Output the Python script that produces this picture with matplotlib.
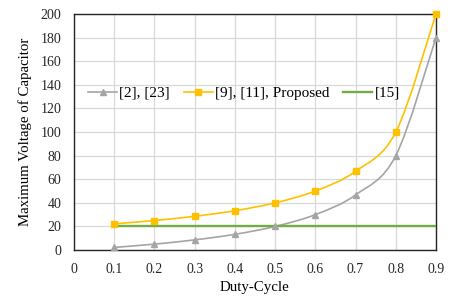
import matplotlib
matplotlib.use("Agg")
import matplotlib.pyplot as plt
from matplotlib.path import Path
from matplotlib.patches import PathPatch
from matplotlib.lines import Line2D
import numpy as np

plt.rcParams['font.family'] = ['Liberation Serif', 'DejaVu Serif']

duty = [0.1, 0.2, 0.3, 0.4, 0.5, 0.6, 0.7, 0.8, 0.9]
ref_2_23 = [2.2, 5.0, 8.6, 13.3, 20.0, 30.0, 46.7, 80.0, 180.0]
ref_9_11_prop = [22.2, 25.0, 28.6, 33.3, 40.0, 50.0, 66.7, 100.0, 200.0]
ref_15 = [20, 20, 20, 20, 20, 20, 20, 20, 20]
labels = ["[2], [23]", "[9], [11], Proposed", "[15]"]

GRAY = "#A5A5A5"
YEL = "#FFC000"
GRN = "#70AD47"

fig = plt.figure(figsize=(4.5, 2.98), dpi=100)
ax = fig.add_axes([0.1644, 0.161, 0.8045, 0.792])


def smooth_path(x, y):
    x = np.asarray(x, float)
    y = np.asarray(y, float)
    verts = [(x[0], y[0])]
    codes = [Path.MOVETO]
    n = len(x)
    for i in range(n - 1):
        p0 = np.array([x[max(i - 1, 0)], y[max(i - 1, 0)]])
        p1 = np.array([x[i], y[i]])
        p2 = np.array([x[i + 1], y[i + 1]])
        p3 = np.array([x[min(i + 2, n - 1)], y[min(i + 2, n - 1)]])
        c1 = p1 + (p2 - p0) / 6.0
        c2 = p2 - (p3 - p1) / 6.0
        verts += [tuple(c1), tuple(c2), tuple(p2)]
        codes += [Path.CURVE4] * 3
    return Path(verts, codes)


for ys, col, mk, ms in [(ref_2_23, GRAY, '^', 4.5), (ref_9_11_prop, YEL, 's', 4.5)]:
    ax.add_patch(PathPatch(smooth_path(duty, ys), facecolor='none', edgecolor=col,
                           lw=1.2, zorder=3, clip_on=False))
    ax.plot(duty, ys, linestyle='none', marker=mk, color=col, ms=ms, zorder=4, clip_on=False)
ax.plot(duty, ref_15, color=GRN, lw=1.7, zorder=3)

ax.set_xlim(0, 0.9)
ax.set_ylim(0, 200)
ax.set_xticks(np.arange(0, 0.91, 0.1))
ax.set_xticklabels(["0", "0.1", "0.2", "0.3", "0.4", "0.5", "0.6", "0.7", "0.8", "0.9"])
ax.set_yticks(np.arange(0, 201, 20))
ax.grid(True, color="#D9D9D9", lw=0.9)
ax.set_axisbelow(True)
for s in ax.spines.values():
    s.set_color("#262626")
    s.set_linewidth(1.0)
ax.tick_params(axis='y', length=0, labelsize=10, pad=9, colors="#262626")
ax.tick_params(axis='x', length=0, labelsize=10, pad=9, colors="#262626")
ax.set_xlabel("Duty-Cycle", fontsize=10.7, labelpad=4)
ax.set_ylabel("Maximum Voltage of Capacitor", fontsize=10.7, labelpad=6)

handles = [
    Line2D([], [], color=GRAY, marker='^', ms=4.5, lw=1.2),
    Line2D([], [], color=YEL, marker='s', ms=4.5, lw=1.2),
    Line2D([], [], color=GRN, lw=1.7),
]
ax.legend(handles, labels, loc='center left', bbox_to_anchor=(0.039, 0.665), ncol=3,
          frameon=False, fontsize=11, handlelength=1.9, columnspacing=0.9,
          handletextpad=0.15, borderaxespad=0, borderpad=0)

fig.savefig("out.png", dpi=100)
